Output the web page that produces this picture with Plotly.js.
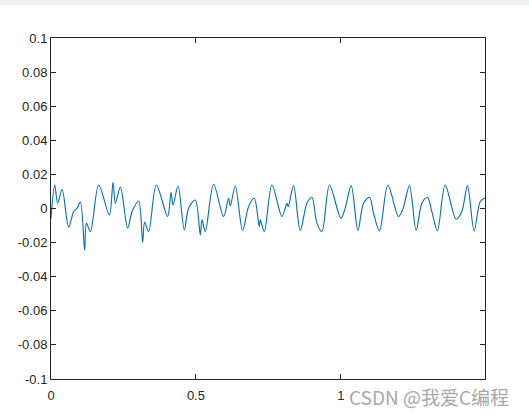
<!DOCTYPE html>
<html>
<head>
<meta charset="utf-8">
<script src="https://cdn.plot.ly/plotly-3.0.1.min.js"></script>
<style>
  html, body { margin: 0; padding: 0; background: #ffffff; }
  #topband { position: absolute; left: 0; top: 0; width: 529px; height: 5px; background: #edf1f8; z-index: 5; }
  #chart { width: 529px; height: 415px; }
</style>
</head>
<body>
<div id="topband"></div>
<div id="chart"></div>
<script>
// time (s)
const timeS = [
  0.0000, 0.0128, 0.0231, 0.0383, 0.0610, 0.0783, 0.0900, 0.1014, 0.1162, 0.1220,
  0.1359, 0.1645, 0.2014, 0.2141, 0.2221, 0.2393, 0.2645, 0.2797, 0.3024, 0.3162,
  0.3231, 0.3369, 0.3634, 0.4024, 0.4141, 0.4210, 0.4383, 0.4600, 0.4748, 0.4979,
  0.5152, 0.5210, 0.5324, 0.5610, 0.5955, 0.6128, 0.6186, 0.6359, 0.6610, 0.6817,
  0.7014, 0.7186, 0.7221, 0.7359, 0.7624, 0.7969, 0.8141, 0.8186, 0.8369, 0.8600,
  0.8831, 0.9003, 0.9176, 0.9348, 0.9610, 1.0003, 1.0152, 1.0359, 1.0590, 1.0783,
  1.0990, 1.1128, 1.1334, 1.1624, 1.1990, 1.2141, 1.2369, 1.2600, 1.2797, 1.2990,
  1.3152, 1.3334, 1.3600, 1.3979, 1.4176, 1.4369, 1.4600, 1.4807, 1.4962
];
// signal amplitude
const signalV = [
  -0.0060, 0.0138, 0.0031, 0.0113, -0.0109, -0.0018, 0.0002, 0.0037, -0.0245, -0.0086,
  -0.0135, 0.0138, -0.0037, 0.0154, 0.0031, 0.0125, -0.0115, -0.0018, 0.0044, -0.0200,
  -0.0080, -0.0135, 0.0138, -0.0047, 0.0093, 0.0021, 0.0132, -0.0125, 0.0002, 0.0050,
  -0.0155, -0.0067, -0.0135, 0.0142, -0.0047, 0.0060, 0.0015, 0.0132, -0.0129, 0.0011,
  0.0060, -0.0106, -0.0067, -0.0135, 0.0138, -0.0047, 0.0031, 0.0010, 0.0134, -0.0129,
  0.0031, 0.0066, -0.0086, -0.0135, 0.0138, -0.0057, 0.0002, 0.0134, -0.0129, 0.0031,
  0.0066, -0.0028, -0.0131, 0.0138, -0.0047, -0.0004, 0.0134, -0.0129, 0.0031, 0.0066,
  -0.0026, -0.0131, 0.0138, -0.0063, -0.0018, 0.0134, -0.0131, 0.0040, 0.0062
];
const xTickVals = [0, 0.5, 1];
const xTickText = ['0', '0.5', '1'];
const yTickVals = [0.1, 0.08, 0.06, 0.04, 0.02, 0, -0.02, -0.04, -0.06, -0.08, -0.1];
const yTickText = ['0.1', '0.08', '0.06', '0.04', '0.02', '0', '-0.02', '-0.04', '-0.06', '-0.08', '-0.1'];
const watermark = 'CSDN @我爱C编程';

const axisCommon = {
  showgrid: false, zeroline: false, showline: true, mirror: 'ticks',
  linecolor: '#262626', linewidth: 1, ticks: 'inside', ticklen: 5,
  tickcolor: '#262626', tickwidth: 1,
  tickfont: { family: 'Liberation Sans, Arial, sans-serif', size: 13, color: '#262626' },
  tickmode: 'array'
};

Plotly.newPlot('chart', [{
  x: timeS, y: signalV, type: 'scatter', mode: 'lines',
  line: { color: '#0a72b0', width: 1.15, shape: 'spline', smoothing: 0.9 },
  hoverinfo: 'none'
}], {
  width: 529, height: 415,
  margin: { l: 50.6, r: 44, t: 37.8, b: 35.6 },
  paper_bgcolor: '#ffffff', plot_bgcolor: '#ffffff',
  showlegend: false,
  xaxis: Object.assign({}, axisCommon, { range: [0, 1.4975], tickvals: xTickVals, ticktext: xTickText, ticklabelstandoff: 4 }),
  yaxis: Object.assign({}, axisCommon, { range: [-0.1, 0.1], tickvals: yTickVals, ticktext: yTickText }),
  annotations: [{
    text: watermark, xref: 'paper', yref: 'paper', x: 0.681, y: -0.05,
    xanchor: 'left', yanchor: 'middle', showarrow: false,
    font: { family: 'Noto Sans CJK SC, Liberation Sans, sans-serif', size: 19, color: '#a8a8a8' }
  }]
}, { staticPlot: true });
</script>
</body>
</html>
